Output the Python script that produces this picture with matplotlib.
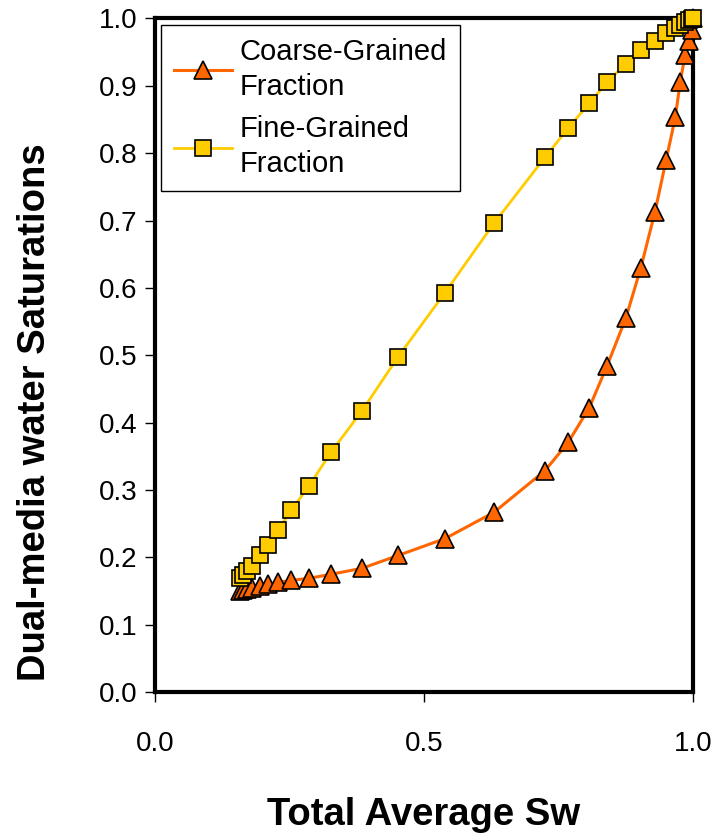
import matplotlib.pyplot as plt

plt.rcParams['font.family'] = ['Liberation Sans', 'DejaVu Sans']

# Total average Sw (shared x for both fractions)
total_sw = [0.158, 0.164, 0.171, 0.180, 0.195, 0.210, 0.229, 0.253, 0.286, 0.327,
            0.385, 0.452, 0.539, 0.630, 0.725, 0.768, 0.807, 0.840, 0.875, 0.903,
            0.929, 0.950, 0.967, 0.976, 0.985, 0.993, 0.998, 1.000]

coarse = [0.150, 0.151, 0.153, 0.155, 0.157, 0.160, 0.163, 0.166, 0.169, 0.175,
          0.184, 0.203, 0.228, 0.267, 0.329, 0.371, 0.422, 0.484, 0.555, 0.630,
          0.712, 0.790, 0.853, 0.905, 0.945, 0.966, 0.982, 1.000]

fine = [0.169, 0.174, 0.180, 0.188, 0.203, 0.219, 0.241, 0.270, 0.306, 0.356,
        0.418, 0.498, 0.593, 0.696, 0.794, 0.837, 0.874, 0.905, 0.933, 0.953,
        0.967, 0.979, 0.985, 0.990, 0.994, 0.997, 0.999, 1.000]

fig = plt.figure(figsize=(7.28, 8.35), dpi=100)
ax = fig.add_axes([0.213, 0.171, 0.739, 0.807])

ax.plot(total_sw, coarse, color='#FF6600', lw=2.2, marker='^', markersize=13,
        markerfacecolor='#FF6600', markeredgecolor='black', markeredgewidth=1.2,
        label='Coarse-Grained\nFraction', clip_on=False, zorder=3)
ax.plot(total_sw, fine, color='#FFCC00', lw=2.0, marker='s', markersize=11,
        markerfacecolor='#FFCC00', markeredgecolor='black', markeredgewidth=1.2,
        label='Fine-Grained\nFraction', clip_on=False, zorder=4)

ax.set_xlim(0, 1)
ax.set_ylim(0, 1)
ax.set_xticks([0.0, 0.5, 1.0])
ax.set_xticklabels(['0.0', '0.5', '1.0'])
ax.set_yticks([i / 10 for i in range(11)])
ax.set_yticklabels([f'{i / 10:.1f}' for i in range(11)])

for s in ax.spines.values():
    s.set_linewidth(3)
ax.tick_params(axis='both', direction='out', length=7, width=1, labelsize=20)
ax.tick_params(axis='x', pad=21)
ax.tick_params(axis='y', pad=6)

ax.set_xlabel('Total Average Sw', fontsize=27.5, fontweight='bold')
ax.set_ylabel('Dual-media water Saturations', fontsize=27.5, fontweight='bold')
ax.xaxis.set_label_coords(0.5, -0.156)
ax.yaxis.set_label_coords(-0.19, 0.415)

leg = ax.legend(loc='upper left', bbox_to_anchor=(0.011, 0.99), fontsize=21,
                frameon=True, fancybox=False, edgecolor='black', framealpha=1,
                handlelength=2.0, labelspacing=0.5, borderpad=0.45,
                handletextpad=0.25, borderaxespad=0)
for t in leg.get_texts():
    t.set_linespacing(1.3)
leg.get_frame().set_linewidth(1)

fig.savefig('out.png', dpi=100)
